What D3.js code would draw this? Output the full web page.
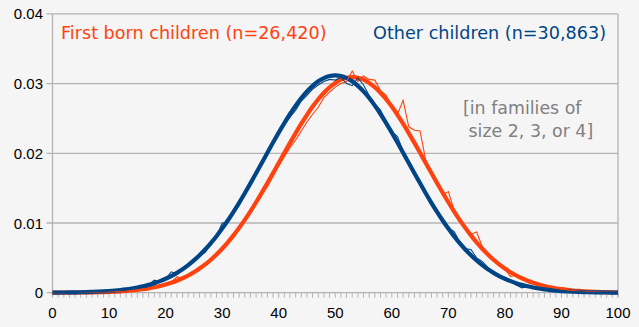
<!DOCTYPE html>
<html>
<head>
<meta charset="utf-8">
<script src="https://cdn.jsdelivr.net/npm/d3@7"></script>
<style>
  html, body { margin: 0; padding: 0; background: #f5f5f5; }
  svg { display: block; }
</style>
</head>
<body>
<svg id="svg"></svg>
<script>
const svgWidth = 639;
const svgHeight = 327;

// scores 0..100, one value per integer score
const scores = d3.range(0, 101);

// fitted normal curves (density per score)
const otherFit = [
  0.0000152, 0.0000205, 0.0000276, 0.0000368, 0.0000489, 0.0000646, 0.0000847, 0.000110, 0.000143, 0.000185,
  0.000236, 0.000301, 0.000380, 0.000478, 0.000597, 0.000742, 0.000915, 0.00112, 0.00137, 0.00166,
  0.00200, 0.00239, 0.00285, 0.00337, 0.00396, 0.00463, 0.00538, 0.00620, 0.00712, 0.00811,
  0.00920, 0.01036, 0.01160, 0.01290, 0.01427, 0.01569, 0.01714, 0.01861, 0.02009, 0.02155,
  0.02297, 0.02434, 0.02564, 0.02684, 0.02793, 0.02888, 0.02968, 0.03033, 0.03079, 0.03108,
  0.03117,
  0.03108, 0.03079, 0.03033, 0.02968, 0.02888, 0.02793, 0.02684, 0.02564, 0.02434, 0.02297,
  0.02155, 0.02009, 0.01861, 0.01714, 0.01569, 0.01427, 0.01290, 0.01160, 0.01036, 0.00920,
  0.00811, 0.00712, 0.00620, 0.00538, 0.00463, 0.00396, 0.00337, 0.00285, 0.00239, 0.00200,
  0.00166, 0.00137, 0.00112, 0.000915, 0.000742, 0.000597, 0.000478, 0.000380, 0.000301, 0.000236,
  0.000185, 0.000143, 0.000110, 0.0000847, 0.0000646, 0.0000489, 0.0000368, 0.0000276, 0.0000205, 0.0000152
];

const firstFit = [
  0.0000067, 0.0000092, 0.0000125, 0.0000169, 0.0000227, 0.0000304, 0.0000405, 0.0000535, 0.0000705, 0.0000922,
  0.000120, 0.000154, 0.000198, 0.000253, 0.000320, 0.000404, 0.000506, 0.000630, 0.000779, 0.000959,
  0.00117, 0.00143, 0.00172, 0.00207, 0.00247, 0.00293, 0.00346, 0.00406, 0.00473, 0.00548,
  0.00631, 0.00722, 0.00822, 0.00930, 0.01045, 0.01168, 0.01298, 0.01433, 0.01573, 0.01716,
  0.01861, 0.02007, 0.02150, 0.02290, 0.02425, 0.02552, 0.02670, 0.02776, 0.02869, 0.02948,
  0.03010, 0.03056, 0.03084, 0.03093, 0.03084, 0.03056, 0.03010, 0.02948, 0.02869, 0.02776,
  0.02670, 0.02552, 0.02425, 0.02290, 0.02150, 0.02007, 0.01861, 0.01716, 0.01573, 0.01433,
  0.01298, 0.01168, 0.01045, 0.00930, 0.00822, 0.00722, 0.00631, 0.00548, 0.00473, 0.00406,
  0.00346, 0.00293, 0.00247, 0.00207, 0.00172, 0.00143, 0.00117, 0.000959, 0.000779, 0.000630,
  0.000506, 0.000404, 0.000320, 0.000253, 0.000198, 0.000154, 0.000120, 0.0000922, 0.0000705, 0.0000535,
  0.0000405
];

// observed share of children at each score
const otherObserved = [
  0.00002, 0.00002, 0.00003, 0.00004, 0.00005, 0.00007, 0.00008, 0.00012, 0.00014, 0.00019,
  0.00024, 0.00030, 0.00040, 0.00048, 0.00062, 0.00080, 0.00092, 0.00115, 0.00180, 0.00150,
  0.00200, 0.00300, 0.00270, 0.00330, 0.00420, 0.00460, 0.00530, 0.00580, 0.00700, 0.00800,
  0.01000, 0.01010, 0.01140, 0.01310, 0.01400, 0.01560, 0.01710, 0.01860, 0.01990, 0.02160,
  0.02280, 0.02410, 0.02520, 0.02620, 0.02750, 0.02830, 0.02920, 0.02980, 0.03030, 0.03060,
  0.03050, 0.03090, 0.03000, 0.02970, 0.03080, 0.02980, 0.02830, 0.02710, 0.02620, 0.02450,
  0.02310, 0.02240, 0.02030, 0.01880, 0.01730, 0.01580, 0.01430, 0.01290, 0.01170, 0.01040,
  0.00930, 0.00880, 0.00730, 0.00630, 0.00620, 0.00500, 0.00450, 0.00360, 0.00300, 0.00250,
  0.00210, 0.00170, 0.00110, 0.00070, 0.00090, 0.00070, 0.00060, 0.00048, 0.00038, 0.00030,
  0.00024, 0.00018, 0.00014, 0.00011, 0.00008, 0.00006, 0.00005, 0.00004, 0.00003, 0.00002,
  0.00002
];

const firstObserved = [
  0.00001, 0.00001, 0.00001, 0.00002, 0.00002, 0.00003, 0.00004, 0.00005, 0.00007, 0.00009,
  0.00012, 0.00015, 0.00020, 0.00025, 0.00032, 0.00040, 0.00051, 0.00063, 0.00078, 0.00096,
  0.00117, 0.00143, 0.00230, 0.00200, 0.00260, 0.00300, 0.00370, 0.00400, 0.00470, 0.00550,
  0.00620, 0.00710, 0.00810, 0.00930, 0.01040, 0.01170, 0.01290, 0.01420, 0.01520, 0.01670,
  0.01820, 0.01950, 0.02080, 0.02190, 0.02320, 0.02450, 0.02560, 0.02660, 0.02800, 0.02880,
  0.02950, 0.03000, 0.03030, 0.03180, 0.03030, 0.03110, 0.03060, 0.03050, 0.02900, 0.02830,
  0.02680, 0.02560, 0.02760, 0.02380, 0.02330, 0.02320, 0.01900, 0.01720, 0.01560, 0.01400,
  0.01450, 0.01190, 0.01050, 0.00940, 0.00840, 0.00870, 0.00660, 0.00550, 0.00470, 0.00410,
  0.00340, 0.00230, 0.00260, 0.00210, 0.00170, 0.00140, 0.00117, 0.00096, 0.00078, 0.00063,
  0.00051, 0.00040, 0.00032, 0.00025, 0.00020, 0.00015, 0.00012, 0.00009, 0.00007, 0.00005,
  0.00004
];

const xTicks = [0, 10, 20, 30, 40, 50, 60, 70, 80, 90, 100];
const yTicks = [0, 0.01, 0.02, 0.03, 0.04];
const yTickLabels = ["0", "0.01", "0.02", "0.03", "0.04"];

const firstLabel = "First born children (n=26,420)";
const otherLabel = "Other children (n=30,863)";
const noteLines = ["[in families of", " size 2, 3, or 4]"];

const blue = "#004586";
const orange = "#ff420e";
const gridColor = "#b3b3b3";

let svg = d3.select("#svg");
let chart, xScale, yScale;

function initializeSVG() {
  svg.attr("width", svgWidth).attr("height", svgHeight);
  svg.selectAll("*").remove();

  svg.append("rect")
    .attr("width", svgWidth)
    .attr("height", svgHeight)
    .attr("fill", "#f5f5f5");

  xScale = d3.scaleLinear().domain([0, 100]).range([52.5, 618]);
  yScale = d3.scaleLinear().domain([0, 0.04]).range([292.7, 13.9]);

  chart = svg.append("g");
}

function drawAxes() {
  // horizontal grid with the left tick stubs
  chart.append("g")
    .selectAll("line")
    .data(yTicks)
    .join("line")
    .attr("x1", xScale(0) - 6)
    .attr("x2", xScale(100))
    .attr("y1", d => yScale(d))
    .attr("y2", d => yScale(d))
    .attr("stroke", gridColor)
    .attr("stroke-width", 1.3);

  // left axis and right frame
  [0, 100].forEach(v => {
    chart.append("line")
      .attr("x1", xScale(v)).attr("x2", xScale(v))
      .attr("y1", yScale(0.04)).attr("y2", yScale(0) + 4)
      .attr("stroke", gridColor)
      .attr("stroke-width", 1.3);
  });

  // small ticks below the x axis, one per score
  chart.append("g")
    .selectAll("line")
    .data(scores)
    .join("line")
    .attr("x1", d => xScale(d))
    .attr("x2", d => xScale(d))
    .attr("y1", yScale(0))
    .attr("y2", yScale(0) + 5)
    .attr("stroke", gridColor)
    .attr("stroke-width", 1);

  chart.append("g")
    .selectAll("text")
    .data(xTicks)
    .join("text")
    .attr("x", d => xScale(d))
    .attr("y", 318)
    .attr("text-anchor", "middle")
    .style("font-family", "'Liberation Sans', Arial, sans-serif")
    .style("font-size", "15px")
    .attr("fill", "#000")
    .text(d => d);

  chart.append("g")
    .selectAll("text")
    .data(yTicks)
    .join("text")
    .attr("x", 43)
    .attr("y", d => yScale(d) + 5.5)
    .attr("text-anchor", "end")
    .style("font-family", "'Liberation Sans', Arial, sans-serif")
    .style("font-size", "15px")
    .attr("fill", "#000")
    .text((d, i) => yTickLabels[i]);
}

function drawLines() {
  const smooth = d3.line()
    .x((d, i) => xScale(scores[i]))
    .y(d => yScale(d))
    .curve(d3.curveMonotoneX);

  const jagged = d3.line()
    .x((d, i) => xScale(scores[i]))
    .y(d => yScale(d));

  chart.append("path")
    .datum(firstFit)
    .attr("d", smooth)
    .attr("fill", "none")
    .attr("stroke", orange)
    .attr("stroke-width", 4.2);

  chart.append("path")
    .datum(otherFit)
    .attr("d", smooth)
    .attr("fill", "none")
    .attr("stroke", blue)
    .attr("stroke-width", 4.2);

  chart.append("path")
    .datum(firstObserved)
    .attr("d", jagged)
    .attr("fill", "none")
    .attr("stroke", orange)
    .attr("stroke-width", 1.1);

  chart.append("path")
    .datum(otherObserved)
    .attr("d", jagged)
    .attr("fill", "none")
    .attr("stroke", blue)
    .attr("stroke-width", 1.1);
}

function drawLabels() {
  const font = "'DejaVu Sans', Verdana, sans-serif";

  svg.append("text")
    .attr("x", 61)
    .attr("y", 39)
    .style("font-family", font)
    .style("font-size", "17.6px")
    .attr("fill", orange)
    .text(firstLabel);

  svg.append("text")
    .attr("x", 606)
    .attr("y", 39)
    .attr("text-anchor", "end")
    .style("font-family", font)
    .style("font-size", "17.6px")
    .attr("fill", blue)
    .text(otherLabel);

  svg.append("g")
    .selectAll("text")
    .data(noteLines)
    .join("text")
    .attr("x", 463)
    .attr("y", (d, i) => 114 + i * 23)
    .style("font-family", font)
    .style("font-size", "17.4px")
    .style("white-space", "pre")
    .attr("xml:space", "preserve")
    .attr("fill", "#808080")
    .text(d => d);
}

function initialize() {
  initializeSVG();
  drawAxes();
  drawLines();
  drawLabels();
}

initialize();
</script>
</body>
</html>
